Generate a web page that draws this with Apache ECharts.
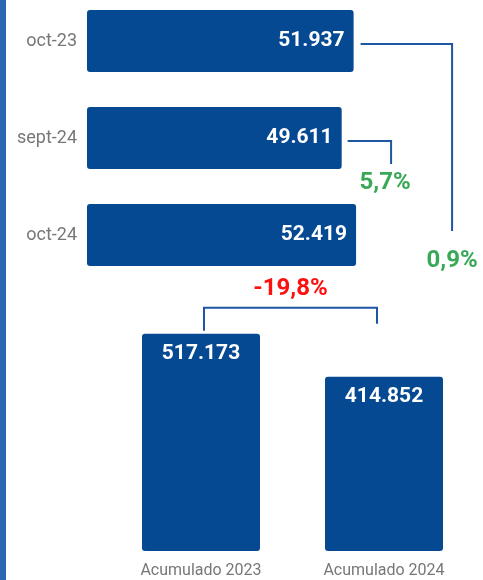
<!DOCTYPE html>
<html><head><meta charset="utf-8">
<script src="https://cdn.jsdelivr.net/npm/echarts@6/dist/echarts.min.js"></script>
<style>html,body{margin:0;padding:0;background:#fff}#c{width:483px;height:580px}</style>
</head><body><div id="c"></div>
<script>
var monthCats = ['oct-23', 'sept-24', 'oct-24'];
var monthVals = [51937, 49611, 52419];
var accCats = ['Acumulado 2023', 'Acumulado 2024'];
var accVals = [517173, 414852];

var BAR = '#054993', LINE = '#1d56a3', GREEN = '#3aa957', RED = '#ff1010', GRAY = '#777777';
var FONT = 'Roboto';
function fmtThousands(v){ return String(v).replace(/\B(?=(\d{3})+(?!\d))/g, '.'); }
function pct(a, b){ var p = (b - a) / a * 100; return p.toFixed(1).replace('.', ',') + '%'; }

var chart = echarts.init(document.getElementById('c'), null, {renderer: 'canvas'});
chart.setOption({
  animation: false,
  textStyle: {fontFamily: FONT},
  grid: [
    {left: 87, top: 41, width: 308, height: 194},
    {left: 109.5, top: 299, width: 366, height: 252}
  ],
  xAxis: [
    {gridIndex: 0, type: 'value', min: 0, max: 60000, show: false},
    {gridIndex: 1, type: 'category', data: accCats,
     axisLine: {show: false}, axisTick: {show: false},
     axisLabel: {color: GRAY, fontSize: 16, margin: 12, fontFamily: FONT}}
  ],
  yAxis: [
    {gridIndex: 0, type: 'category', data: monthCats, inverse: true, boundaryGap: false,
     axisLine: {show: false}, axisTick: {show: false}, splitLine: {show: false},
     axisLabel: {color: GRAY, fontSize: 18, margin: 10, fontFamily: FONT}},
    {gridIndex: 1, type: 'value', min: 0, max: 600000, show: false}
  ],
  series: [
    {type: 'bar', xAxisIndex: 0, yAxisIndex: 0, data: monthVals, barWidth: 62,
     itemStyle: {color: BAR, borderRadius: 3},
     label: {show: true, position: 'insideRight', distance: 9, color: '#fff', fontSize: 21,
             fontWeight: 'bold', fontFamily: FONT, formatter: function(p){ return fmtThousands(p.value); }}},
    {type: 'bar', xAxisIndex: 1, yAxisIndex: 1, data: accVals, barWidth: 118,
     itemStyle: {color: BAR, borderRadius: 3},
     label: {show: true, position: 'insideTop', distance: 9, color: '#fff', fontSize: 21,
             fontWeight: 'bold', fontFamily: FONT, formatter: function(p){ return fmtThousands(p.value); }}}
  ]
});

function px0(i){ return chart.convertToPixel({xAxisIndex: 0, yAxisIndex: 0}, [monthVals[i], i]); }
function px1(i){ return chart.convertToPixel({xAxisIndex: 1, yAxisIndex: 1}, [i, accVals[i]]); }

var b0 = px0(0), b1 = px0(1), b2 = px0(2);
var a0 = px1(0), a1 = px1(1);
var maxEnd = Math.max(b0[0], b1[0], b2[0]);

var lineStyle = {stroke: LINE, lineWidth: 2, fill: null};
var pctStyle = function(txt, color){ return {text: txt, fill: color, font: 'bold 24px ' + FONT, textAlign: 'center', textVerticalAlign: 'middle'}; };

var x1 = maxEnd + 96;
var x2 = b2[0] + 35;
var lx = a0[0] + 3, rx = a1[0] - 7, topY = a0[1] - 26;

chart.setOption({
  graphic: [
    {type: 'rect', shape: {x: 0, y: 0, width: 6, height: 580}, style: {fill: '#2c65b2'}, silent: true},
    {type: 'polyline', shape: {points: [[b0[0] + 7, b0[1] + 3], [x1, b0[1] + 3], [x1, b2[1] - 4]]}, style: lineStyle},
    {type: 'text', x: x1, y: b2[1] + 26, style: pctStyle(pct(monthVals[0], monthVals[2]), GREEN)},
    {type: 'polyline', shape: {points: [[b1[0] + 6, b1[1] + 3], [x2, b1[1] + 3], [x2, b1[1] + 26]]}, style: lineStyle},
    {type: 'text', x: x2 - 6, y: b1[1] + 45, style: pctStyle(pct(monthVals[1], monthVals[2]), GREEN)},
    {type: 'polyline', shape: {points: [[lx, a0[1] - 3], [lx, topY], [rx, topY], [rx, topY + 16]]}, style: lineStyle},
    {type: 'text', x: (lx + rx) / 2, y: topY - 19, style: pctStyle(pct(accVals[0], accVals[1]), RED)}
  ]
});
</script></body></html>
